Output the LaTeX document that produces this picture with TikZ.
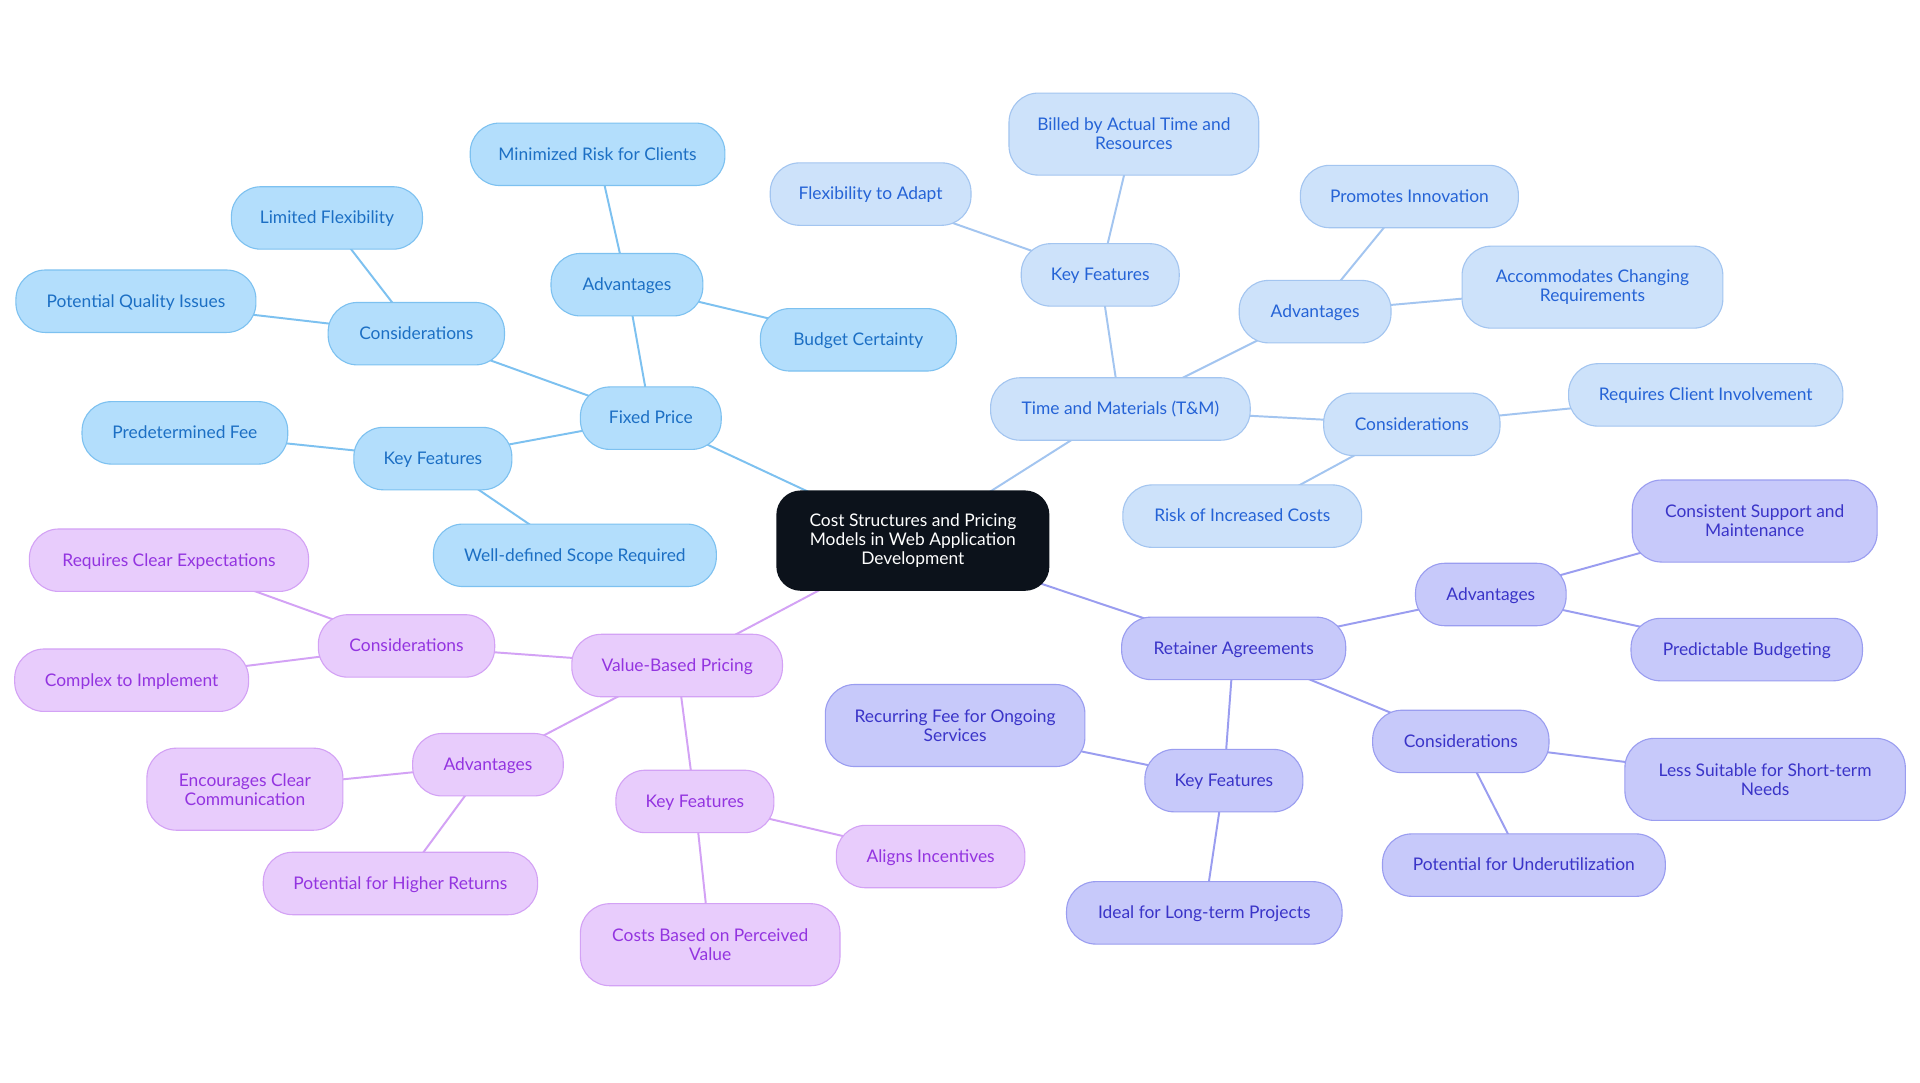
\documentclass[tikz,border=0pt]{standalone}
\usepackage{fontspec}
\setmainfont{Lato}
\usetikzlibrary{backgrounds}
\definecolor{bFill}{HTML}{B3DEFC}
\definecolor{bLine}{HTML}{7DC1F0}
\definecolor{bText}{HTML}{1C6FC4}
\definecolor{tFill}{HTML}{CDE2FA}
\definecolor{tLine}{HTML}{A3C5F0}
\definecolor{tText}{HTML}{2563D6}
\definecolor{rFill}{HTML}{C7C9FA}
\definecolor{rLine}{HTML}{9A9DF0}
\definecolor{rText}{HTML}{3A34C8}
\definecolor{vFill}{HTML}{E8CCFC}
\definecolor{vLine}{HTML}{D3A2F5}
\definecolor{vText}{HTML}{9334E0}
\definecolor{cFill}{HTML}{0C121B}
\tikzset{
  x=1pt, y=-1pt,
  base/.style={rounded corners=24pt, inner sep=0pt, align=center, line width=0.9pt,
    font=\fontsize{14.2}{15.5}\selectfont, minimum height=51pt, text height=12.5pt, text depth=3pt},
  two/.style={minimum height=67pt, text height=, text depth=},
  bnode/.style={base, fill=bFill, draw=bLine, text=bText},
  tnode/.style={base, fill=tFill, draw=tLine, text=tText},
  rnode/.style={base, fill=rFill, draw=rLine, text=rText},
  vnode/.style={base, fill=vFill, draw=vLine, text=vText},
  bedge/.style={draw=bLine, line width=1.6pt},
  tedge/.style={draw=tLine, line width=1.6pt},
  redge/.style={draw=rLine, line width=1.6pt},
  vedge/.style={draw=vLine, line width=1.6pt},
}
\begin{document}
\begin{tikzpicture}
\useasboundingbox (0,0) rectangle (1568,884);
\node[rounded corners=20pt, fill=cFill, text=white, minimum width=223pt, minimum height=82pt,
  inner sep=0pt, align=center, font=\fontsize{14.2}{15.5}\selectfont] (c) at (745.5,441.5)
  {Cost Structures and Pricing\\Models in Web Application\\Development};
% Fixed price
\node[bnode, minimum width=115pt] (fp) at (531.5,341.5) {Fixed Price};
\node[bnode, minimum width=124pt] (fpa) at (512,232.5) {Advantages};
\node[bnode, minimum width=208pt] (fpa1) at (488,126) {Minimized Risk for Clients};
\node[bnode, minimum width=160pt] (fpa2) at (701,277.5) {Budget Certainty};
\node[bnode, minimum width=144pt] (fpc) at (340,272.5) {Considerations};
\node[bnode, minimum width=156pt] (fpc1) at (267,178) {Limited Flexibility};
\node[bnode, minimum width=196pt] (fpc2) at (111,246) {Potential Quality Issues};
\node[bnode, minimum width=129pt] (fpk) at (353.5,374.5) {Key Features};
\node[bnode, minimum width=168pt] (fpk1) at (151,353.5) {Predetermined Fee};
\node[bnode, minimum width=231pt] (fpk2) at (469.5,453.5) {Well-defined Scope Required};
% T&M
\node[tnode, minimum width=212pt] (tm) at (915,334) {Time and Materials (T\&M)};
\node[tnode, minimum width=129pt] (tmk) at (898.5,224.5) {Key Features};
\node[tnode, two, minimum width=204pt] (tmk1) at (926,109.5) {Billed by Actual Time and\\Resources};
\node[tnode, minimum width=164pt] (tmk2) at (711,158.5) {Flexibility to Adapt};
\node[tnode, minimum width=124pt] (tma) at (1074,254.5) {Advantages};
\node[tnode, minimum width=178pt] (tma1) at (1151,160.5) {Promotes Innovation};
\node[tnode, two, minimum width=213pt] (tma2) at (1300.5,234.5) {Accommodates Changing\\Requirements};
\node[tnode, minimum width=144pt] (tmc) at (1153,346.5) {Considerations};
\node[tnode, minimum width=224pt] (tmc1) at (1393,322.5) {Requires Client Involvement};
\node[tnode, minimum width=195pt] (tmc2) at (1014.5,421.5) {Risk of Increased Costs};
% Retainer
\node[rnode, minimum width=183pt] (ra) at (1007.5,529.5) {Retainer Agreements};
\node[rnode, minimum width=123pt] (raa) at (1217.5,485.5) {Advantages};
\node[rnode, two, minimum width=200pt] (raa1) at (1433,425.5) {Consistent Support and\\Maintenance};
\node[rnode, minimum width=189pt] (raa2) at (1426.5,530.5) {Predictable Budgeting};
\node[rnode, minimum width=144pt] (rac) at (1193,605.5) {Considerations};
\node[rnode, two, minimum width=229pt] (rac1) at (1441.5,636.5) {Less Suitable for Short-term\\Needs};
\node[rnode, minimum width=231pt] (rac2) at (1244.5,706.5) {Potential for Underutilization};
\node[rnode, minimum width=129pt] (rak) at (999.5,637.5) {Key Features};
\node[rnode, two, minimum width=212pt] (rak1) at (780,592.5) {Recurring Fee for Ongoing\\Services};
\node[rnode, minimum width=225pt] (rak2) at (983.5,745.5) {Ideal for Long-term Projects};
% Value based
\node[vnode, minimum width=172pt] (vb) at (553,543.5) {Value-Based Pricing};
\node[vnode, minimum width=144pt] (vbc) at (332,527.5) {Considerations};
\node[vnode, minimum width=228pt] (vbc1) at (138,457.5) {Requires Clear Expectations};
\node[vnode, minimum width=191pt] (vbc2) at (107.5,555.5) {Complex to Implement};
\node[vnode, minimum width=123pt] (vba) at (398.5,624.5) {Advantages};
\node[vnode, two, minimum width=160pt] (vba1) at (200,644.5) {Encourages Clear\\Communication};
\node[vnode, minimum width=224pt] (vba2) at (327,721.5) {Potential for Higher Returns};
\node[vnode, minimum width=129pt] (vbk) at (567.5,654.5) {Key Features};
\node[vnode, minimum width=154pt] (vbk1) at (760,699.5) {Aligns Incentives};
\node[vnode, two, minimum width=212pt] (vbk2) at (580,771.5) {Costs Based on Perceived\\Value};
\begin{scope}[on background layer]
\fill[white] (0,0) rectangle (1568,884);
\draw[bedge] (c.center) -- (fp.center);
\draw[bedge] (fp.center) -- (fpa.center);
\draw[bedge] (fp.center) -- (fpc.center);
\draw[bedge] (fp.center) -- (fpk.center);
\draw[bedge] (fpa.center) -- (fpa1.center);
\draw[bedge] (fpa.center) -- (fpa2.center);
\draw[bedge] (fpc.center) -- (fpc1.center);
\draw[bedge] (fpc.center) -- (fpc2.center);
\draw[bedge] (fpk.center) -- (fpk1.center);
\draw[bedge] (fpk.center) -- (fpk2.center);
\draw[tedge] (c.center) -- (tm.center);
\draw[tedge] (tm.center) -- (tmk.center);
\draw[tedge] (tm.center) -- (tma.center);
\draw[tedge] (tm.center) -- (tmc.center);
\draw[tedge] (tmk.center) -- (tmk1.center);
\draw[tedge] (tmk.center) -- (tmk2.center);
\draw[tedge] (tma.center) -- (tma1.center);
\draw[tedge] (tma.center) -- (tma2.center);
\draw[tedge] (tmc.center) -- (tmc1.center);
\draw[tedge] (tmc.center) -- (tmc2.center);
\draw[redge] (c.center) -- (ra.center);
\draw[redge] (ra.center) -- (raa.center);
\draw[redge] (ra.center) -- (rac.center);
\draw[redge] (ra.center) -- (rak.center);
\draw[redge] (raa.center) -- (raa1.center);
\draw[redge] (raa.center) -- (raa2.center);
\draw[redge] (rac.center) -- (rac1.center);
\draw[redge] (rac.center) -- (rac2.center);
\draw[redge] (rak.center) -- (rak1.center);
\draw[redge] (rak.center) -- (rak2.center);
\draw[vedge] (c.center) -- (vb.center);
\draw[vedge] (vb.center) -- (vbc.center);
\draw[vedge] (vb.center) -- (vba.center);
\draw[vedge] (vb.center) -- (vbk.center);
\draw[vedge] (vbc.center) -- (vbc1.center);
\draw[vedge] (vbc.center) -- (vbc2.center);
\draw[vedge] (vba.center) -- (vba1.center);
\draw[vedge] (vba.center) -- (vba2.center);
\draw[vedge] (vbk.center) -- (vbk1.center);
\draw[vedge] (vbk.center) -- (vbk2.center);
\end{scope}
\end{tikzpicture}
\end{document}
